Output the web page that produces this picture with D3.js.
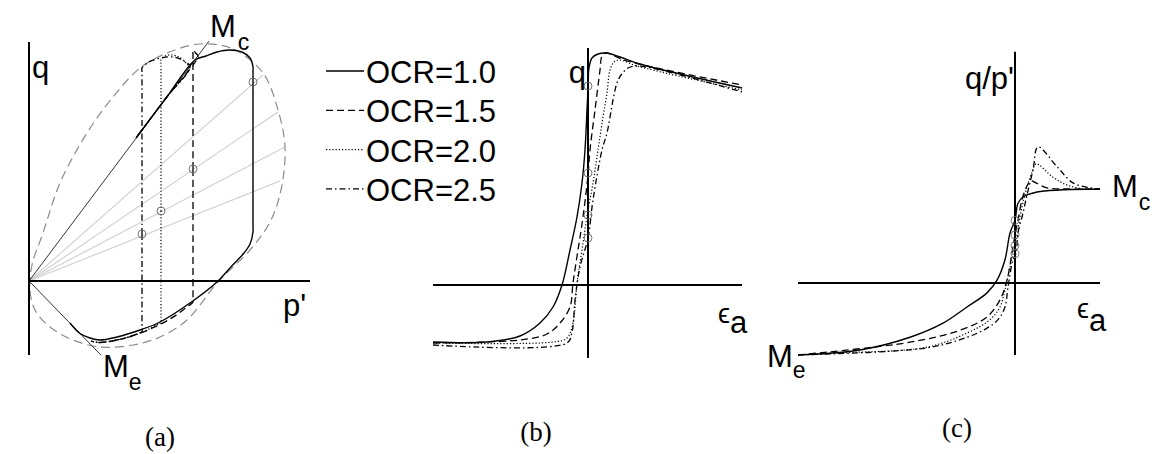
<!DOCTYPE html>
<html>
<head>
<meta charset="utf-8">
<script src="https://cdn.jsdelivr.net/npm/d3@7"></script>
<style>
  body { margin: 0; background: #fff; }
  svg text { font-family: "Liberation Sans", Arial, "DejaVu Sans", sans-serif; fill: #000; }
  svg text.cap { font-family: "Liberation Serif", "Times New Roman", serif; }
</style>
</head>
<body>
<svg id="fig" width="1153" height="454"></svg>
<script>
// ---- data -------------------------------------------------------------
const ocrLabels = ["OCR=1.0", "OCR=1.5", "OCR=2.0", "OCR=2.5"];
const Mc = 1.333;             // critical stress ratio, compression
const Me = 1.03;              // critical stress ratio, extension

// initial states (p', q) of the four samples
const p0 = [2.24, 1.64, 1.32, 1.13];
const q0 = [1.99, 1.12, 0.70, 0.47];

// bounding surface in p'-q
const boundSurf = [
  [1.71, 2.37], [2.04, 2.32], [2.34, 2.08], [2.49, 1.71], [2.56, 1.34], [2.52, 0.91],
  [2.41, 0.59], [2.21, 0.31], [1.88, -0.02], [1.58, -0.39], [1.31, -0.56], [1.04, -0.64],
  [0.71, -0.66], [0.44, -0.59], [0.21, -0.46], [0.06, -0.29], [0.01, -0.09], [0.03, 0.16],
  [0.14, 0.48], [0.31, 0.98], [0.58, 1.48], [0.84, 1.84], [1.11, 2.13], [1.38, 2.28]
];
// constant stress-ratio rays through the initial states
const rayEnds = [[2.34, 2.06], [2.49, 1.69], [2.56, 1.34], [2.51, 1.00]];

// undrained stress paths, compression branch (p', q)
const compA = [
  [[2.24, 1.99], [2.24, 2.10], [2.24, 2.14], [2.21, 2.23], [2.13, 2.29], [2.00, 2.31], [1.88, 2.29], [1.77, 2.25], [1.66, 2.21], [1.37, 1.83], [1.07, 1.43]],
  [[1.64, 1.12], [1.64, 1.70], [1.64, 2.26], [1.64, 2.31], [1.665, 2.28], [1.69, 2.25], [1.37, 1.83], [1.07, 1.43]],
  [[1.32, 0.70], [1.32, 1.50], [1.32, 2.16], [1.32, 2.21], [1.36, 2.25], [1.43, 2.26], [1.50, 2.24], [1.56, 2.19], [1.60, 2.13], [1.37, 1.83], [1.07, 1.43]],
  [[1.13, 0.47], [1.13, 1.30], [1.13, 2.09], [1.13, 2.13], [1.20, 2.19], [1.32, 2.23], [1.45, 2.24], [1.55, 2.20], [1.61, 2.145], [1.37, 1.83], [1.07, 1.43]]
];
// undrained stress paths, extension branch (p', q)
const extA = [
  [[2.24, 1.99], [2.24, 1.00], [2.24, 0.55], [2.24, 0.49], [2.21, 0.37], [2.15, 0.28], [2.01, 0.13], [1.88, -0.01], [1.61, -0.22], [1.31, -0.41], [1.11, -0.49], [0.88, -0.56], [0.71, -0.59], [0.61, -0.57], [0.51, -0.525], [0.41, -0.42]],
  [[1.64, 1.12], [1.64, 0.40], [1.64, -0.17], [1.64, -0.21], [1.60, -0.245], [1.41, -0.38], [1.14, -0.51], [0.88, -0.59], [0.70, -0.615], [0.62, -0.60]],
  [[1.32, 0.70], [1.32, 0.00], [1.32, -0.37], [1.32, -0.415], [1.28, -0.435], [1.14, -0.51], [0.88, -0.59], [0.70, -0.615], [0.62, -0.60]],
  [[1.13, 0.47], [1.13, 0.00], [1.13, -0.46], [1.13, -0.505], [1.09, -0.525], [1.00, -0.56], [0.88, -0.59], [0.70, -0.615], [0.62, -0.60]]
];

// q versus axial strain (eps_a, q)
const curvesB = [
  [[-1.55, -0.57], [-1.01, -0.57], [-0.68, -0.51], [-0.48, -0.38], [-0.35, -0.22], [-0.26, 0.00], [-0.18, 0.35], [-0.11, 0.68], [-0.06, 1.02], [-0.03, 1.35], [-0.01, 1.75], [0.00, 1.96], [0.01, 2.17], [0.04, 2.27], [0.10, 2.31], [0.18, 2.32], [0.32, 2.28], [0.52, 2.21], [1.54, 1.97]],
  [[-1.55, -0.58], [-0.68, -0.55], [-0.41, -0.49], [-0.28, -0.38], [-0.18, -0.22], [-0.15, 0.02], [-0.10, 0.35], [-0.05, 0.68], [0.00, 1.10], [0.02, 1.35], [0.07, 1.75], [0.12, 2.15], [0.14, 2.29], [0.18, 2.32], [0.39, 2.24], [1.54, 2.00]],
  [[-1.55, -0.58], [-0.35, -0.57], [-0.21, -0.53], [-0.15, -0.38], [-0.11, 0.02], [-0.06, 0.35], [-0.01, 0.69], [0.05, 1.02], [0.10, 1.35], [0.15, 1.68], [0.19, 1.92], [0.22, 2.15], [0.26, 2.23], [0.32, 2.25], [0.49, 2.19], [1.54, 1.95]],
  [[-1.55, -0.60], [-0.21, -0.58], [-0.16, -0.47], [-0.13, -0.15], [-0.08, 0.18], [0.00, 0.47], [0.05, 0.85], [0.14, 1.35], [0.19, 1.52], [0.25, 1.85], [0.29, 2.02], [0.33, 2.10], [0.40, 2.17], [0.50, 2.19], [1.54, 1.93]]
];

// stress ratio versus axial strain (eps_a, q/p')
const curvesC = [
  [[-2.17, -1.02], [-1.55, -0.95], [-1.05, -0.77], [-0.72, -0.57], [-0.48, -0.34], [-0.28, -0.14], [-0.18, 0.04], [-0.10, 0.33], [-0.05, 0.71], [0.00, 0.89], [0.03, 1.13], [0.08, 1.22], [0.22, 1.29], [0.45, 1.32], [0.85, 1.333]],
  [[-2.17, -1.02], [-1.05, -0.84], [-0.55, -0.67], [-0.28, -0.48], [-0.15, -0.24], [-0.08, 0.04], [-0.03, 0.43], [0.00, 0.68], [0.03, 0.89], [0.07, 1.18], [0.12, 1.38], [0.16, 1.45], [0.21, 1.42], [0.32, 1.35], [0.55, 1.333], [0.85, 1.333]],
  [[-2.17, -1.02], [-1.72, -0.99], [-0.88, -0.91], [-0.48, -0.71], [-0.25, -0.52], [-0.15, -0.34], [-0.10, -0.10], [-0.05, 0.23], [0.00, 0.53], [0.07, 1.08], [0.12, 1.36], [0.17, 1.57], [0.21, 1.69], [0.38, 1.50], [0.52, 1.39], [0.70, 1.333], [0.85, 1.333]],
  [[-2.17, -1.02], [-0.88, -0.92], [-0.48, -0.77], [-0.28, -0.64], [-0.17, -0.52], [-0.10, -0.34], [-0.07, -0.06], [-0.02, 0.33], [0.01, 0.42], [0.03, 0.71], [0.08, 0.99], [0.12, 1.25], [0.18, 1.60], [0.23, 1.93], [0.42, 1.65], [0.58, 1.42], [0.75, 1.35], [0.85, 1.333]]
];

const panelCaptions = ["(a)", "(b)", "(c)"];

// ---- styles -----------------------------------------------------------
const dashes = [null, "7,4", "1.2,2", "6,3,1.5,3"];
const widths = [1.4, 1.3, 1.2, 1.3];
const curveGen = d3.curveCatmullRom.alpha(0.5);
const FS = 31;

const svg = d3.select("#fig");

function drawSeries(g, sets, x, y) {
  const line = d3.line().x(d => x(d[0])).y(d => y(d[1])).curve(curveGen);
  sets.forEach((pts, i) => {
    g.append("path").attr("d", line(pts))
      .attr("fill", "none").attr("stroke", "#000")
      .attr("stroke-width", widths[i])
      .attr("stroke-dasharray", dashes[i])
      .attr("stroke-linejoin", "round");
  });
}
function axisLines(g, x, y, xr, yr) {
  g.append("line").attr("x1", x(xr[0])).attr("x2", x(xr[1])).attr("y1", y(0)).attr("y2", y(0))
    .attr("stroke", "#000").attr("stroke-width", 2);
  g.append("line").attr("x1", x(0)).attr("x2", x(0)).attr("y1", y(yr[0])).attr("y2", y(yr[1]))
    .attr("stroke", "#000").attr("stroke-width", 2);
}
function subLabel(g, xPos, yPos, main, sub, mainSize, subSize, dx, dy) {
  const t = g.append("text").attr("x", xPos).attr("y", yPos).style("font-size", mainSize + "px");
  t.append("tspan").text(main);
  t.append("tspan").attr("dx", dx).attr("dy", dy).style("font-size", subSize + "px").text(sub);
}
function circles(g, pts, x, y) {
  g.selectAll(null).data(pts).join("circle")
    .attr("cx", d => x(d[0])).attr("cy", d => y(d[1])).attr("r", 4)
    .attr("fill", "none").attr("stroke", "#666").attr("stroke-width", 0.9);
}

// ---- panel (a): stress paths in p'-q --------------------------------------
const xA = d3.scaleLinear().domain([0, 1]).range([29, 129]);
const yA = d3.scaleLinear().domain([0, 1]).range([281, 181]);
const gA = svg.append("g");

gA.selectAll(null).data(rayEnds).join("line")
  .attr("x1", xA(0)).attr("y1", yA(0))
  .attr("x2", d => xA(d[0])).attr("y2", d => yA(d[1]))
  .attr("stroke", "#cfcfcf").attr("stroke-width", 1.1);

gA.append("path")
  .attr("d", d3.line().x(d => xA(d[0])).y(d => yA(d[1])).curve(d3.curveCatmullRomClosed.alpha(0.5))(boundSurf))
  .attr("fill", "none").attr("stroke", "#8c8c8c").attr("stroke-width", 1.2).attr("stroke-dasharray", "9,5");

gA.append("line").attr("x1", xA(0)).attr("y1", yA(0)).attr("x2", xA(1.80)).attr("y2", yA(1.80 * Mc))
  .attr("stroke", "#333").attr("stroke-width", 1);
gA.append("line").attr("x1", xA(0)).attr("y1", yA(0)).attr("x2", xA(0.72)).attr("y2", yA(-0.72 * Me))
  .attr("stroke", "#333").attr("stroke-width", 1);

drawSeries(gA, compA, xA, yA);
drawSeries(gA, extA, xA, yA);
circles(gA, p0.map((p, i) => [p, q0[i]]), xA, yA);
axisLines(gA, xA, yA, [0, 2.81], [-0.74, 2.39]);

gA.append("text").attr("x", xA(0.03)).attr("y", yA(2.03)).style("font-size", FS + "px").text("q");
gA.append("text").attr("x", xA(2.54)).attr("y", yA(-0.35)).style("font-size", FS + "px").text("p'");
subLabel(gA, xA(1.81), yA(2.44), "M", "c", FS, 23, 2, 13);
subLabel(gA, xA(0.74), yA(-0.96), "M", "e", FS, 23, 0, 13);

// ---- legend ---------------------------------------------------------------
const gL = svg.append("g");
ocrLabels.forEach((lab, i) => {
  const yy = 71 + i * 39.3;
  gL.append("line").attr("x1", 326).attr("x2", 364).attr("y1", yy).attr("y2", yy)
    .attr("stroke", "#000").attr("stroke-width", widths[i]).attr("stroke-dasharray", dashes[i]);
  gL.append("text").attr("x", 366).attr("y", yy + 12).style("font-size", FS + "px").text(lab);
});

// ---- panel (b): q vs axial strain -------------------------------------------
const xB = d3.scaleLinear().domain([0, 1]).range([588, 688]);
const yB = d3.scaleLinear().domain([0, 1]).range([285, 185]);
const gB = svg.append("g");
drawSeries(gB, curvesB, xB, yB);
axisLines(gB, xB, yB, [-1.55, 1.54], [-0.73, 2.37]);
circles(gB, q0.map(q => [0, q]), xB, yB);
gB.append("text").attr("x", xB(-0.02)).attr("y", yB(2.02)).attr("text-anchor", "end").style("font-size", FS + "px").text("q");
subLabel(gB, xB(1.30), yB(-0.38), "\u03F5", "a", 27, FS, 0, 10);

// ---- panel (c): stress ratio vs axial strain ------------------------------
const xC = d3.scaleLinear().domain([0, 1]).range([1015, 1115]);
const yC = d3.scaleLinear().domain([0, 1]).range([283, 212.5]);
const gC = svg.append("g");
drawSeries(gC, curvesC, xC, yC);
axisLines(gC, xC, yC, [-2.17, 0.85], [-1.02, 3.28]);
circles(gC, p0.map((p, i) => [0, q0[i] / p]), xC, yC);
gC.append("text").attr("x", xC(-0.50)).attr("y", yC(2.75)).style("font-size", FS + "px").text("q/p'");
subLabel(gC, xC(0.97), yC(1.22), "M", "c", FS, 23, 1, 13);
subLabel(gC, xC(-2.48), yC(-1.19), "M", "e", FS, 23, 0, 11);
subLabel(gC, xC(0.62), yC(-0.50), "\u03F5", "a", 27, FS, 0, 13);

// ---- captions -------------------------------------------------------------
const capPos = [[160, 446], [536, 441], [957, 437]];
panelCaptions.forEach((c, i) => {
  svg.append("text").attr("class", "cap").attr("x", capPos[i][0]).attr("y", capPos[i][1])
    .attr("text-anchor", "middle").style("font-size", "27px").text(c);
});
</script>
</body>
</html>
